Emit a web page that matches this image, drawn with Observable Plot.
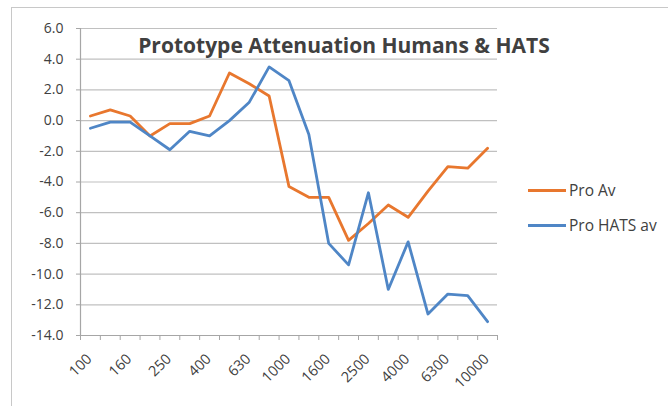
<!DOCTYPE html>
<html><head><meta charset="utf-8">
<script src="https://cdn.jsdelivr.net/npm/d3@7"></script>
<script src="https://cdn.jsdelivr.net/npm/@observablehq/plot@0.6"></script>
<style>
html,body{margin:0;padding:0;background:#fff;}
#wrap{position:relative;width:668px;height:406px;overflow:hidden;font-family:"Open Sans",sans-serif;}
#border{position:absolute;left:11px;top:7px;width:800px;height:500px;border:1.5px solid #c8c8c8;}
#title{position:absolute;left:0;width:688px;top:31px;text-align:center;font-size:21px;font-weight:bold;color:#404040;}
.leg{position:absolute;left:528px;font-size:15.5px;color:#404040;display:flex;align-items:center;}
.leg span.sw{display:inline-block;width:38px;height:3px;margin-right:3px;}
#chart{position:absolute;left:0;top:0;}
</style></head>
<body>
<div id="wrap">
<div id="border"></div>
<div id="chart"></div>
<div id="title">Prototype Attenuation Humans &amp; HATS</div>
<div class="leg" style="top:179px"><span class="sw" style="background:#E8772E"></span>Pro Av</div>
<div class="leg" style="top:214px"><span class="sw" style="background:#4F86C6"></span>Pro HATS av</div>
</div>
<script>
const freqs = ["100","125","160","200","250","315","400","500","630","800","1000","1250","1600","2000","2500","3150","4000","5000","6300","8000","10000"];
const proAv = [0.3,0.7,0.3,-1.0,-0.2,-0.2,0.3,3.1,2.4,1.6,-4.3,-5.0,-5.0,-7.8,-6.7,-5.5,-6.3,-4.6,-3.0,-3.1,-1.8];
const proHats = [-0.5,-0.1,-0.1,-1.0,-1.9,-0.7,-1.0,0.0,1.2,3.5,2.6,-0.9,-8.0,-9.4,-4.7,-11.0,-7.9,-12.6,-11.3,-11.4,-13.1];
const yTicks = [6,4,2,0,-2,-4,-6,-8,-10,-12,-14];

const data = freqs.map((f,i)=>({i, f, av: proAv[i], hats: proHats[i]}));
const idx = d3.range(freqs.length);
const evenIdx = idx.filter(i => i % 2 === 0);
const bounds = d3.range(freqs.length + 1).map(k => k - 0.5);

const chart = Plot.plot({
  width: 668, height: 406,
  marginLeft: 80, marginRight: 171, marginTop: 28, marginBottom: 71,
  style: {fontFamily: "Open Sans, sans-serif", color: "#404040", background: "transparent"},
  x: {type: "linear", domain: [-0.5, freqs.length - 0.5], axis: null},
  y: {domain: [-14, 6], axis: null},
  marks: [
    Plot.gridY(yTicks, {stroke: "#c0c0c0", strokeOpacity: 1, strokeWidth: 1.2}),
    Plot.axisY(yTicks, {label: null, tickFormat: d => d.toFixed(1), tickSize: 4, tickPadding: 13, fontSize: 14, stroke: "#a6a6a6", fill: "#404040"}),
    Plot.ruleX([-0.5], {stroke: "#a6a6a6", strokeWidth: 1.2}),
    Plot.ruleY([-14], {stroke: "#a6a6a6", strokeWidth: 1.2}),
    Plot.axisX(bounds, {label: null, tickSize: 5, tickFormat: () => "", stroke: "#a6a6a6"}),
    Plot.axisX(evenIdx, {label: null, tickSize: 0, tickPadding: 21, tickFormat: i => freqs[i], tickRotate: -45, textAnchor: "end", fontSize: 14.5, fill: "#404040", dx: -1}),
    Plot.line(data, {x: "i", y: "av", stroke: "#E8772E", strokeWidth: 2.8}),
    Plot.line(data, {x: "i", y: "hats", stroke: "#4F86C6", strokeWidth: 2.8})
  ]
});
document.getElementById("chart").appendChild(chart);
</script>
</body></html>
